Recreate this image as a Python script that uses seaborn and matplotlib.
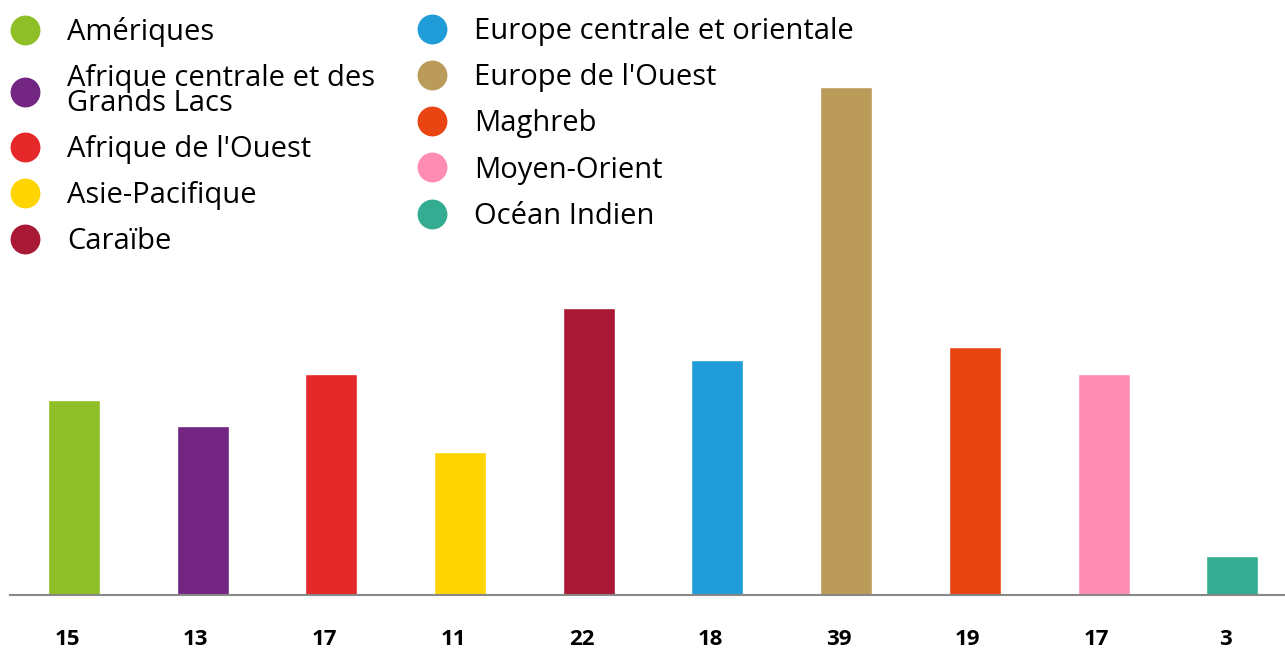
import matplotlib
matplotlib.use('Agg')
import matplotlib.pyplot as plt
from matplotlib.lines import Line2D
from matplotlib.transforms import ScaledTranslation
import seaborn as sns

# data
regions = ['Amériques', 'Afrique centrale et des\nGrands Lacs', "Afrique de l'Ouest",
           'Asie-Pacifique', 'Caraïbe', 'Europe centrale et orientale',
           "Europe de l'Ouest", 'Maghreb', 'Moyen-Orient', 'Océan Indien']
counts = [15, 13, 17, 11, 22, 18, 39, 19, 17, 3]
colors = ['#8FBF26', '#722581', '#E52829', '#FFD400', '#A91834',
          '#209CD8', '#BA9B5A', '#E84512', '#FF8DB3', '#34AC92']

sns.set_style('white')
plt.rcParams['font.family'] = ['Open Sans', 'DejaVu Sans']
plt.rcParams['text.color'] = 'black'
plt.rcParams['xtick.color'] = 'black'

fig = plt.figure(figsize=(12.85, 6.48), dpi=100)
ax = fig.add_axes([10 / 1285, 53 / 648, 1275 / 1285, 585 / 648])

sns.barplot(x=regions, y=counts, hue=regions, palette=colors, legend=False,
            saturation=1, width=0.404, ax=ax)

ax.set_xlim(-0.497, 9.41)
ax.set_ylim(0, 44.9)
ax.set_yticks([])
ax.set_ylabel('')
ax.set_xticks(range(len(counts)))
ax.set_xticklabels([str(c) for c in counts], fontsize=16, fontweight='bold')
ax.tick_params(axis='x', length=0, pad=24.2)
# value labels sit slightly left of the bar centres in the original
shift = ScaledTranslation(-7 / 100, 0, fig.dpi_scale_trans)
for lab in ax.get_xticklabels():
    lab.set_transform(lab.get_transform() + shift)
for s in ['top', 'left', 'right']:
    ax.spines[s].set_visible(False)
ax.spines['bottom'].set_color('#888888')
ax.spines['bottom'].set_linewidth(1.5)

handles = [Line2D([], [], marker='o', linestyle='', markersize=21.5,
                  markerfacecolor=c, markeredgewidth=0) for c in colors]

leg_kw = dict(frameon=False, fontsize=21, handlelength=1.0, handletextpad=0.94,
              labelspacing=0.59, borderpad=0, borderaxespad=0, loc='upper left')
leg1 = fig.legend(handles[:5], regions[:5], bbox_to_anchor=(10.4 / 1285, 1 - 17 / 648), **leg_kw)
leg2 = fig.legend(handles[5:], regions[5:], bbox_to_anchor=(417.4 / 1285, 1 - 17 / 648), **leg_kw)
for t in leg1.get_texts() + leg2.get_texts():
    t.set_linespacing(0.8)

fig.savefig('out.png', dpi=100)
